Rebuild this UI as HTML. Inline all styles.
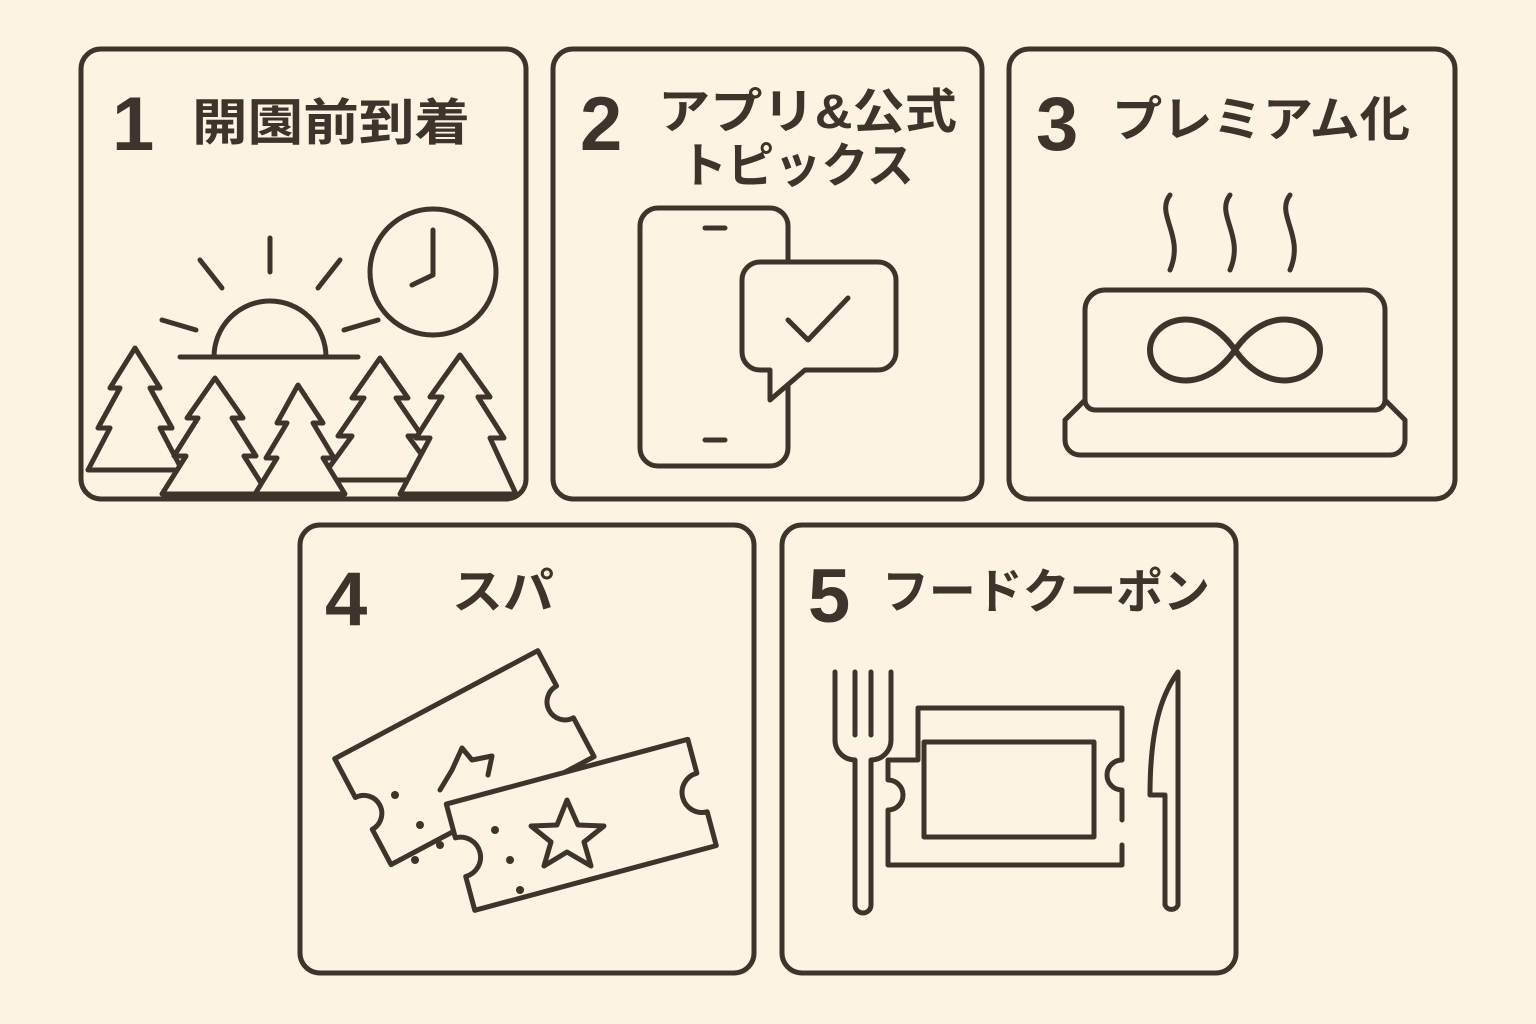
<!DOCTYPE html>
<html><head><meta charset="utf-8"><style>
html,body{margin:0;padding:0;background:#fdf3e3;}
svg{display:block}
text{font-family:"Liberation Sans","Noto Sans CJK JP",sans-serif;fill:#3d342c;font-weight:bold}
</style></head><body>
<svg width="1536" height="1024" viewBox="0 0 1536 1024" xmlns="http://www.w3.org/2000/svg">
<rect width="1536" height="1024" fill="#fdf3e3"/>
<g fill="none" stroke="#3d342c" stroke-width="5" stroke-linecap="round" stroke-linejoin="round">
<rect x="81" y="49" width="445" height="450" rx="20"/>
<rect x="553" y="49" width="429" height="450" rx="20"/>
<rect x="1009" y="49" width="446" height="450" rx="20"/>
<rect x="300" y="525" width="454" height="448" rx="20"/>
<rect x="782" y="525" width="454" height="448" rx="20"/>

<!-- panel 1 -->
<circle cx="433" cy="272" r="63"/>
<path d="M433 230 V275 L412 285"/>
<path d="M214 357 A56 56 0 0 1 326 357"/>
<path d="M180 357 H358"/>
<path d="M270 238 V272 M200 260 L222 288 M340 260 L318 288 M162 320 L196 330 M378 320 L344 330"/>
<g fill="#fdf3e3">
<path d="M135 348 L160 388 L150 388 L172 428 L160 428 L182 470 L88 470 L110 428 L98 428 L120 388 L110 388 Z"/>
<path d="M380 358 L408 398 L396 398 L422 436 L408 436 L440 480 L320 480 L352 436 L338 436 L364 398 L352 398 Z"/>
<path d="M215 378 L243 418 L232 418 L256 456 L244 456 L268 494 L162 494 L186 456 L174 456 L198 418 L187 418 Z"/>
<path d="M298 385 L323 423 L313 423 L334 458 L323 458 L345 494 L255 494 L277 458 L266 458 L287 423 L277 423 Z"/>
<path d="M460 355 L490 397 L478 397 L504 438 L490 438 L516 494 L400 494 L430 438 L416 438 L442 397 L430 397 Z"/>
</g>

<!-- panel 2 -->
<rect x="640" y="208" width="148" height="258" rx="18"/>
<path d="M705 228 H725 M705 440 H725"/>
<path d="M742 280 a18 18 0 0 1 18 -18 H878 a18 18 0 0 1 18 18 V352 a18 18 0 0 1 -18 18 H805 L770 400 V370 H760 a18 18 0 0 1 -18 -18 Z" fill="#fdf3e3"/>
<path d="M788 320 L808 340 L848 298"/>

<!-- panel 3 -->
<path d="M1170 195 c-15 20 15 40 0 75 M1230 195 c-15 20 15 40 0 75 M1290 195 c-15 20 15 40 0 75"/>
<path d="M1085 310 a20 20 0 0 1 20 -20 H1365 a20 20 0 0 1 20 20 V400 a10 10 0 0 1 -10 10 H1095 a10 10 0 0 1 -10 -10 Z"/>
<path d="M1085 400 L1065 420 V440 a15 15 0 0 0 15 15 H1390 a15 15 0 0 0 15 -15 V420 L1385 400"/>
<path d="M1235 350 C1200 300 1150 320 1150 350 C1150 380 1200 400 1235 350 C1270 300 1320 320 1320 350 C1320 380 1270 400 1235 350 Z" stroke-width="6"/>

<!-- panel 4 -->
<g transform="rotate(-28 460 760)">
<path d="M350 700 H580 V740 a18 18 0 0 0 0 36 V820 H350 V780 a18 18 0 0 0 0 -36 Z"/>
</g>
<path d="M440 790 L452 770 L462 748 L472 760 L492 756 L488 775"/>
<g transform="rotate(-15 580 820)" fill="#fdf3e3">
<path d="M455 770 H705 V805 a20 20 0 0 0 0 40 V880 H455 V845 a20 20 0 0 0 0 -40 Z"/>
</g>
<path d="M567 800 L578 825 L604 826 L584 842 L591 866 L567 852 L544 866 L551 842 L531 826 L557 825 Z"/>
<g fill="#3d342c" stroke="none"><circle cx="395" cy="795" r="4"/><circle cx="420" cy="825" r="4"/><circle cx="440" cy="845" r="4"/><circle cx="415" cy="860" r="4"/><circle cx="495" cy="830" r="4"/><circle cx="510" cy="860" r="4"/><circle cx="520" cy="890" r="4"/></g>

<!-- panel 5 -->
<path d="M835 672 V740 a20 20 0 0 0 20 20 V905 a8 8 0 0 0 16 0 V760 a20 20 0 0 0 20 -20 V672 M855 672 V735 M871 672 V735"/>
<path d="M1165 905 V795 H1150 C1150 720 1165 690 1178 672 V905 a7 7 0 0 1 -13 0"/>
<path d="M918 708 H1122 V760 a14 14 0 0 0 0 30 V820 M1122 845 V865 H888 V810 a14 14 0 0 0 0 -30 V760 H918 V708"/>
<rect x="924" y="742" width="170" height="95"/>
</g>

<text x="112" y="150" font-size="76">1</text>
<text x="192" y="140" font-size="50" textLength="278" lengthAdjust="spacingAndGlyphs">開園前到着</text>
<text x="580" y="150" font-size="76">2</text>
<text x="658" y="128" font-size="48" textLength="299" lengthAdjust="spacingAndGlyphs">アプリ&amp;公式</text>
<text x="680" y="182" font-size="48" textLength="234" lengthAdjust="spacingAndGlyphs">トピックス</text>
<text x="1036" y="150" font-size="76">3</text>
<text x="1112" y="136" font-size="48" textLength="298" lengthAdjust="spacingAndGlyphs">プレミアム化</text>
<text x="325" y="625" font-size="76">4</text>
<text x="452" y="608" font-size="48" textLength="102" lengthAdjust="spacingAndGlyphs">スパ</text>
<text x="808" y="622" font-size="76">5</text>
<text x="882" y="608" font-size="48" textLength="328" lengthAdjust="spacingAndGlyphs">フードクーポン</text>
</svg>
</body></html>
